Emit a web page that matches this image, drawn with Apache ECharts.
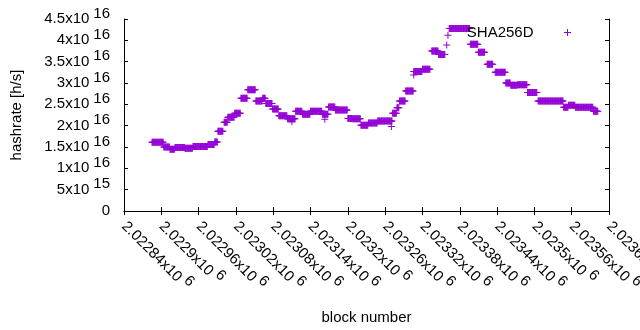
<!DOCTYPE html>
<html>
<head>
<meta charset="utf-8">
<script src="https://cdn.jsdelivr.net/npm/echarts@6/dist/echarts.min.js"></script>
<style>
html, body { margin: 0; padding: 0; background: #fff; }
#chart { width: 640px; height: 330px; }
</style>
</head>
<body>
<div id="chart"></div>
<script>
// x axis (block number) and y axis (hashrate) ranges
const xMin = 2022840
const xMax = 2023620
const xStep = 60
const yMax = 4.5e16
const yStep = 5e15

// runs of consecutive blocks that share the same hashrate value
const runStart = [2022885, 2022904, 2022914, 2022922, 2022938, 2022951, 2022975, 2022986, 2022991, 2023001,
    2023007, 2023018, 2023028, 2023039, 2023052, 2023063, 2023068, 2023079, 2023089, 2023103,
    2023116, 2023127, 2023140, 2023159, 2023169, 2023180, 2023200, 2023208, 2023221, 2023233,
    2023248, 2023272, 2023279, 2023283, 2023293, 2023306, 2023320, 2023335, 2023346, 2023359,
    2023361, 2023363, 2023397, 2023410, 2023424, 2023437, 2023454, 2023462, 2023473, 2023489,
    2023506, 2023547, 2023555, 2023566, 2023595]
const runEnd = [2022903, 2022913, 2022921, 2022937, 2022950, 2022974, 2022985, 2022990, 2022999, 2023006,
    2023017, 2023027, 2023038, 2023051, 2023062, 2023067, 2023078, 2023088, 2023102, 2023115,
    2023126, 2023139, 2023158, 2023168, 2023179, 2023199, 2023207, 2023220, 2023232, 2023247,
    2023271, 2023278, 2023282, 2023292, 2023305, 2023319, 2023332, 2023345, 2023356, 2023359,
    2023361, 2023396, 2023409, 2023420, 2023433, 2023453, 2023461, 2023472, 2023488, 2023504,
    2023546, 2023554, 2023565, 2023594, 2023602]
const runValue = [1.61e16, 1.50e16, 1.45e16, 1.49e16, 1.47e16, 1.51e16, 1.56e16, 1.62e16, 1.87e16, 2.08e16,
    2.20e16, 2.29e16, 2.64e16, 2.84e16, 2.58e16, 2.64e16, 2.52e16, 2.39e16, 2.23e16, 2.16e16,
    2.34e16, 2.27e16, 2.34e16, 2.27e16, 2.44e16, 2.37e16, 2.17e16, 2.16e16, 2.01e16, 2.06e16,
    2.11e16, 2.29e16, 2.42e16, 2.58e16, 2.81e16, 3.27e16, 3.32e16, 3.75e16, 3.67e16, 3.89e16,
    4.12e16, 4.28e16, 3.91e16, 3.72e16, 3.44e16, 3.25e16, 3.00e16, 2.95e16, 2.96e16, 2.78e16,
    2.58e16, 2.43e16, 2.48e16, 2.43e16, 2.34e16]

// a few stray single points
const extraBlocks = [2023110, 2023163, 2023270, 2023306]
const extraValues = [2.09e16, 2.15e16, 1.98e16, 3.19e16]

const seriesName = 'SHA256D'
const violet = '#9400d3'
const font = 'Liberation Sans, Arial, sans-serif'
const plus = 'path://M3,0h1v3h3v1h-3v3h-1v-3h-3v-1h3z'

let points = []
runStart.forEach((s, i) => {
    for (let b = s; b <= runEnd[i]; b++) {
        points.push([b, runValue[i]])
    }
})
extraBlocks.forEach((b, i) => points.push([b, extraValues[i]]))

/** gnuplot style label: 4.5x10^16 */
const sciLabel = (v) => {
    if (v === 0) return '{m|0}'
    let e = Math.floor(Math.log10(v) + 1e-9)
    let m = parseFloat((v / Math.pow(10, e)).toPrecision(8))
    return '{m|' + m + 'x10}{e|' + e + '}'
}
// exponent sits higher than the mantissa: tall token for the mantissa, short one aligned to top
const rich = {
    m: { fontSize: 15, fontFamily: font, color: '#000', lineHeight: 26 },
    e: { fontSize: 15, fontFamily: font, color: '#000', lineHeight: 16, verticalAlign: 'top', padding: [0, 0, 0, 4] }
}
const frame = { show: true, lineStyle: { color: '#000', width: 1 } }
const ticks = { show: true, inside: true, length: 4, lineStyle: { color: '#000' } }

let chart = echarts.init(document.getElementById('chart'))
chart.setOption({
    animation: false,
    backgroundColor: '#fff',
    grid: { left: 124, right: 31, top: 19, bottom: 119, containLabel: false, outerBoundsMode: 'none' },
    legend: {
        data: [seriesName],
        right: 69,
        top: 25,
        padding: 0,
        align: 'right',
        itemWidth: 58,
        itemHeight: 7,
        icon: plus,
        itemStyle: { color: violet },
        textStyle: { fontSize: 15, fontFamily: font, color: '#000' }
    },
    xAxis: [
        {
            type: 'value', min: xMin, max: xMax, interval: xStep, position: 'bottom',
            axisLine: frame, axisTick: ticks, splitLine: { show: false },
            axisLabel: { rotate: -45, margin: 13, formatter: sciLabel, rich: rich, showMaxLabel: true, hideOverlap: false },
            name: 'block number', nameLocation: 'middle', nameGap: 99,
            nameTextStyle: { fontSize: 15, fontFamily: font, color: '#000' }
        },
        {
            type: 'value', min: xMin, max: xMax, interval: xStep, position: 'top',
            axisLine: frame, axisTick: ticks, splitLine: { show: false }, axisLabel: { show: false }
        }
    ],
    yAxis: [
        {
            type: 'value', min: 0, max: yMax, interval: yStep, position: 'left',
            axisLine: frame, axisTick: ticks, splitLine: { show: false },
            axisLabel: { margin: 14, formatter: sciLabel, rich: rich },
            name: 'hashrate [h/s]', nameLocation: 'middle', nameGap: 100, nameRotate: 90,
            nameTextStyle: { fontSize: 15, fontFamily: font, color: '#000' }
        },
        {
            type: 'value', min: 0, max: yMax, interval: yStep, position: 'right',
            axisLine: frame, axisTick: ticks, splitLine: { show: false }, axisLabel: { show: false }
        }
    ],
    series: [
        {
            name: seriesName,
            type: 'scatter',
            symbol: plus,
            symbolSize: 7,
            itemStyle: { color: violet, opacity: 1 },
            data: points
        }
    ]
})
</script>
</body>
</html>
